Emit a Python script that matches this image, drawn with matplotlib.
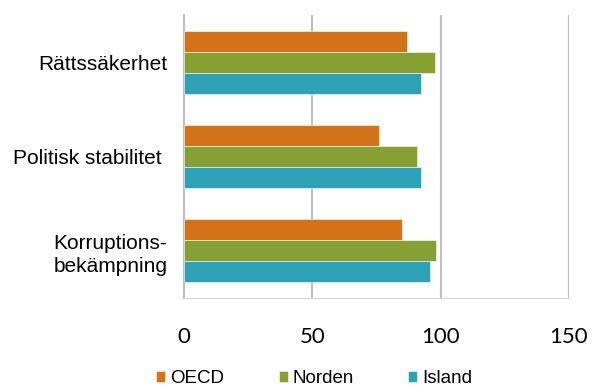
import numpy as np
import matplotlib.pyplot as plt

categories = ['Rättssäkerhet', 'Politisk stabilitet ', 'Korruptions-\nbekämpning']
series = ['OECD', 'Norden', 'Island']
oecd = [87.0, 76.0, 84.9]
norden = [97.9, 90.8, 98.3]
island = [92.5, 92.5, 95.7]
colors = ['#D4721A', '#87A033', '#2FA1B6']

fig = plt.figure(figsize=(5.92, 3.87), dpi=100)
ax = fig.add_axes([0.311, 0.230, 0.650, 0.731])

y = np.arange(len(categories))
h = 0.222
for i, (vals, c, name) in enumerate(zip([oecd, norden, island], colors, series)):
    ax.barh(y + (i - 1) * h, vals, height=h, color=c, label=name,
            edgecolor='white', linewidth=0.4, zorder=3)

ax.set_xlim(0, 150)
ax.set_xticks([0, 50, 100, 150])
ax.set_ylim(2.5, -0.5)
ax.set_yticks(y)
ax.set_yticklabels(categories, fontsize=15, family='Liberation Sans',
                   ha='right', linespacing=1.25)
ax.tick_params(axis='y', length=0, pad=12)
ax.tick_params(axis='x', length=0, pad=21, labelsize=16)
for t in ax.get_xticklabels():
    t.set_family('Lato')

ax.grid(axis='x', color='#BFBFBF', linewidth=1.5, zorder=0)
for s in ['top', 'right']:
    ax.spines[s].set_visible(False)
ax.spines['left'].set_color('#BFBFBF')
ax.spines['left'].set_linewidth(1.5)
ax.spines['bottom'].set_color('#D9D9D9')
ax.spines['bottom'].set_linewidth(1.0)

fig.legend(loc='center', bbox_to_anchor=(0.531, 0.021), ncol=3, frameon=False,
           prop={'family': 'Liberation Sans', 'size': 13.5}, handlelength=0.48,
           handleheight=0.48, handletextpad=0.27, columnspacing=2.9,
           borderpad=0.1)

fig.savefig('out.png', dpi=100)
